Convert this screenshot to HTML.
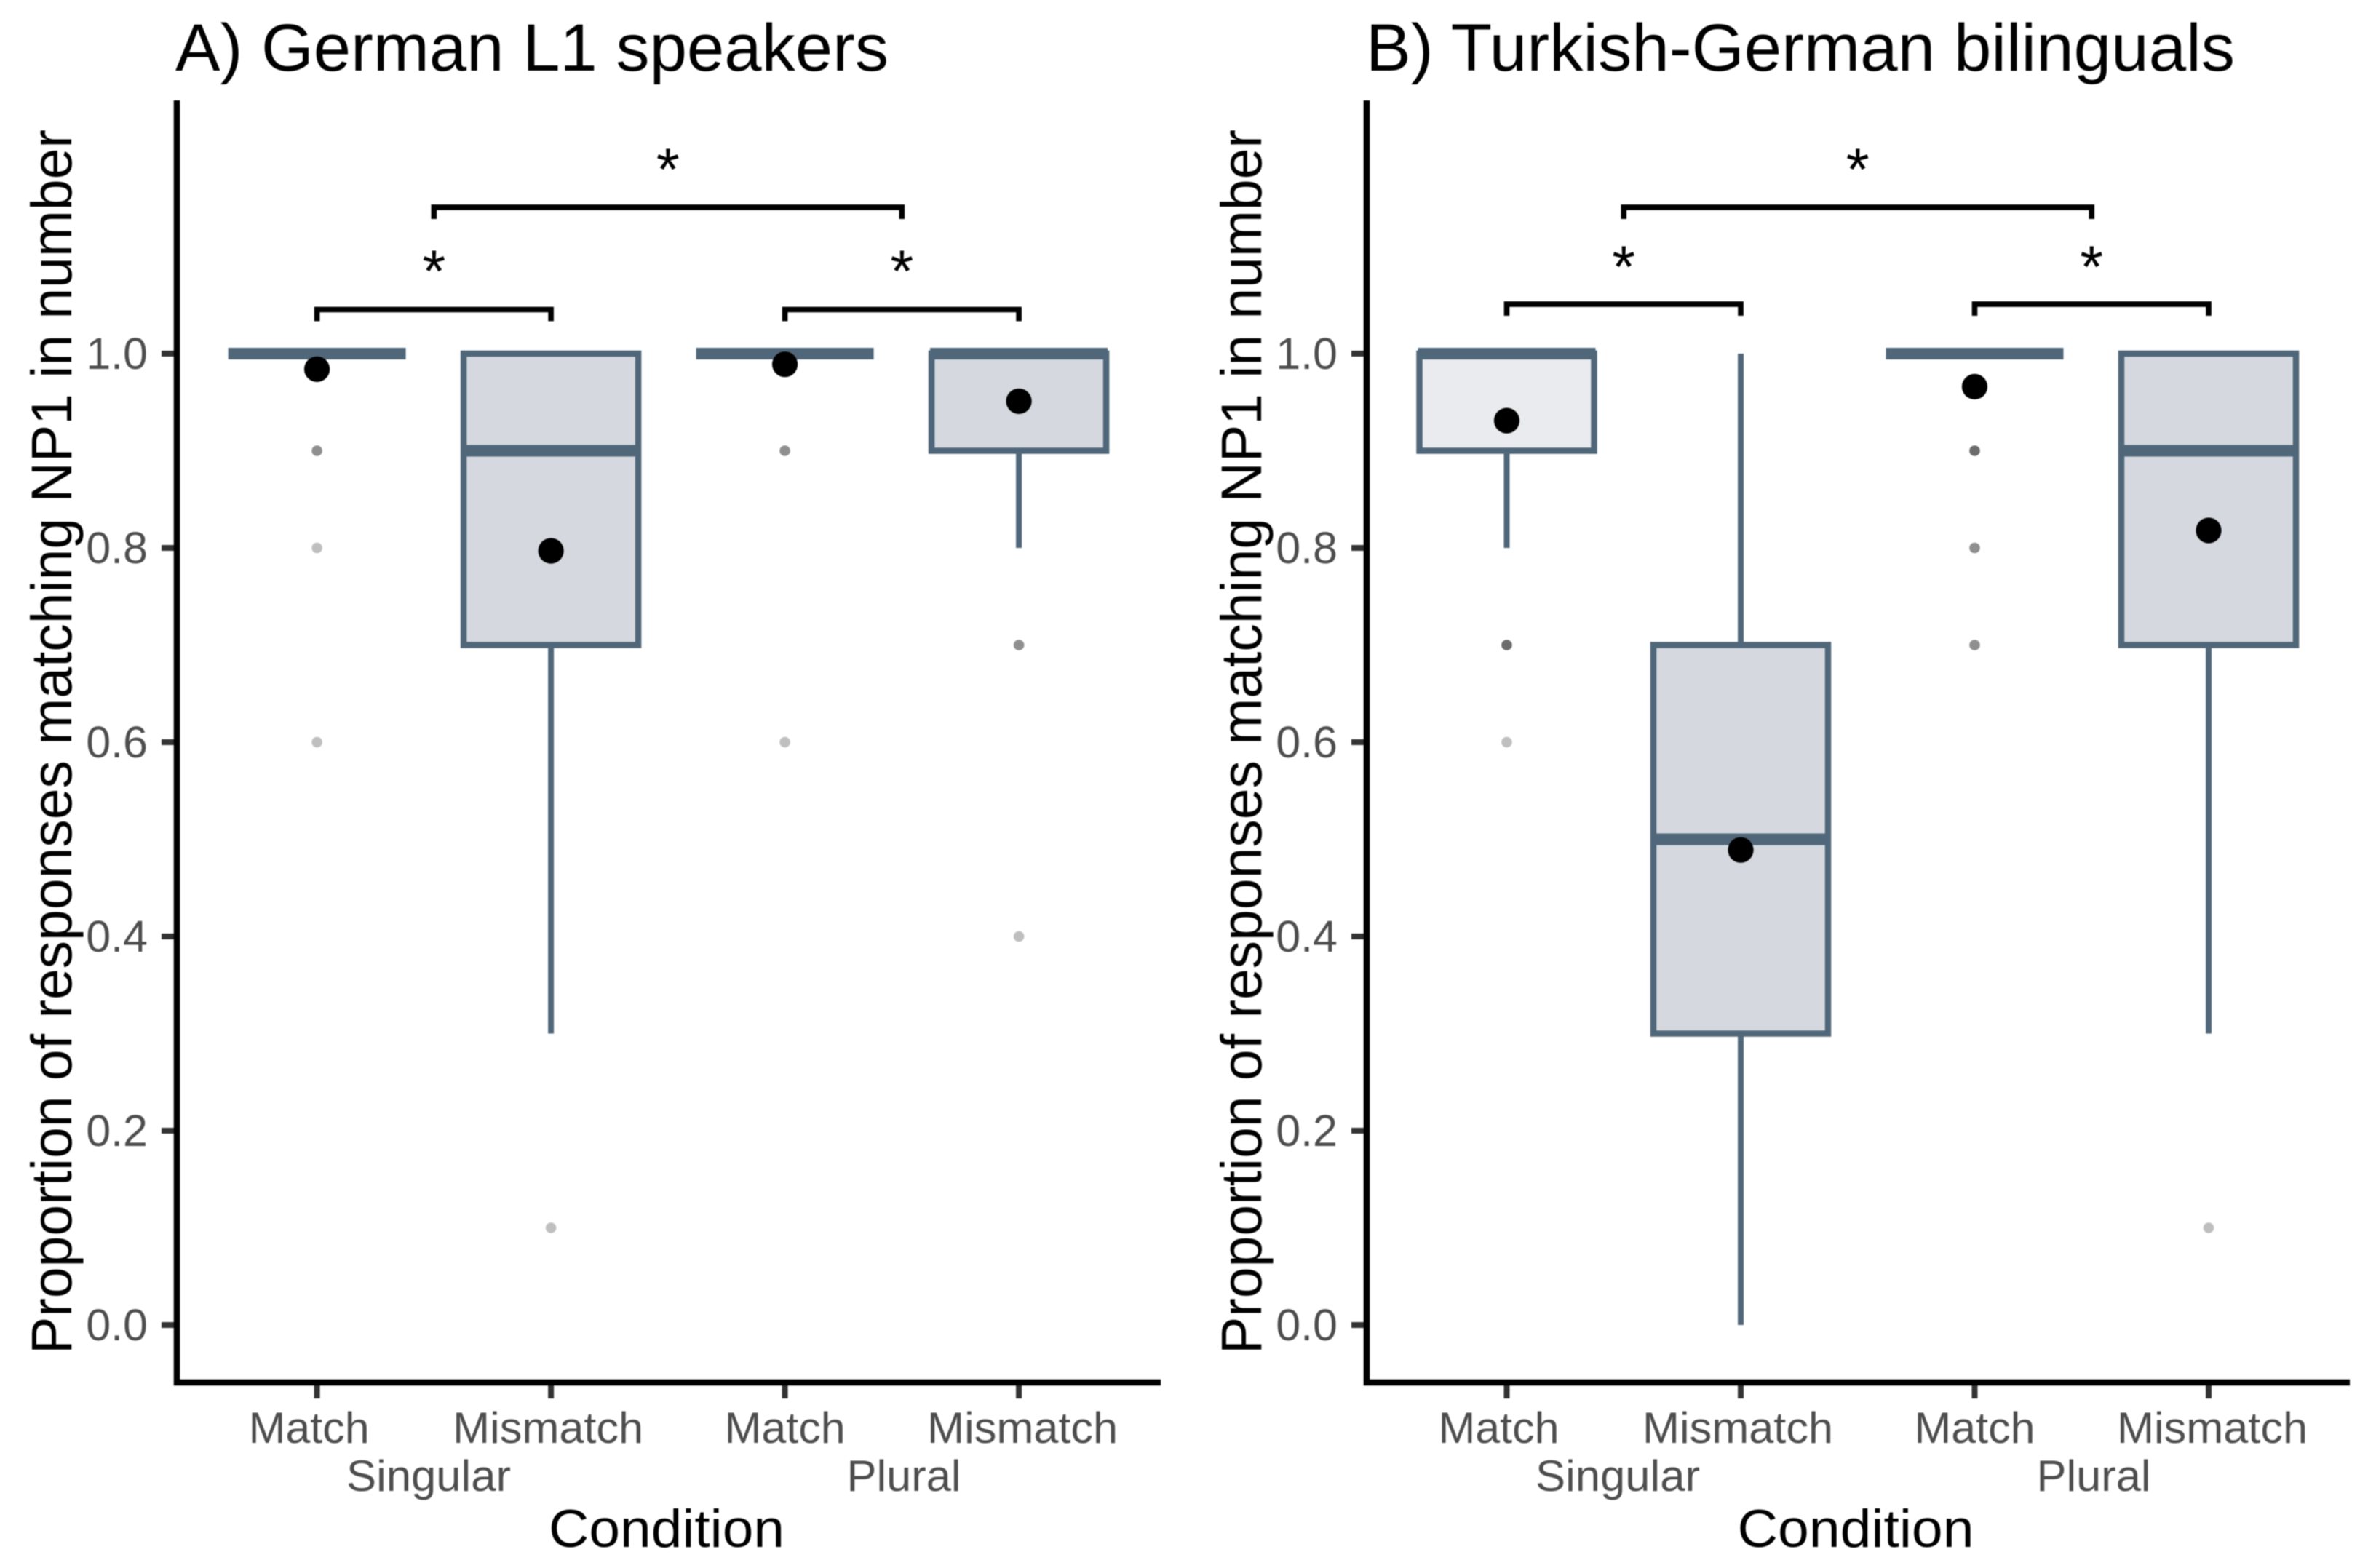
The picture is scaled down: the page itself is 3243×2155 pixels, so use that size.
<!DOCTYPE html>
<html>
<head>
<meta charset="utf-8">
<title>Proportion of responses matching NP1 in number</title>
<style>
html,body{margin:0;padding:0;background:#fff;}
svg{display:block;filter:blur(0.7px);}
text{font-family:"Liberation Sans",Arial,sans-serif;}
</style>
</head>
<body>
<svg id="chart" xmlns="http://www.w3.org/2000/svg" width="3243" height="2155" viewBox="0 0 3243 2155">
<rect width="3243" height="2155" fill="#fff"/>
<text x="241" y="97" font-size="92" fill="#000" textLength="980" lengthAdjust="spacingAndGlyphs">A) German L1 speakers</text>
<text x="1877" y="97" font-size="92" fill="#000" textLength="1194" lengthAdjust="spacingAndGlyphs">B) Turkish-German bilinguals</text>
<text transform="translate(98,1861) rotate(-90)" font-size="79" fill="#000" textLength="1683" lengthAdjust="spacingAndGlyphs">Proportion of responses matching NP1 in number</text>
<text transform="translate(1733,1861) rotate(-90)" font-size="79" fill="#000" textLength="1683" lengthAdjust="spacingAndGlyphs">Proportion of responses matching NP1 in number</text>
<text x="916" y="2126" font-size="73" fill="#000" text-anchor="middle" textLength="324" lengthAdjust="spacingAndGlyphs">Condition</text>
<text x="2550" y="2126" font-size="73" fill="#000" text-anchor="middle" textLength="325" lengthAdjust="spacingAndGlyphs">Condition</text>
<text x="589" y="2049" font-size="60" fill="#4d4d4d" text-anchor="middle" textLength="226" lengthAdjust="spacingAndGlyphs">Singular</text>
<text x="1242" y="2049" font-size="60" fill="#4d4d4d" text-anchor="middle" textLength="157" lengthAdjust="spacingAndGlyphs">Plural</text>
<text x="2223" y="2049" font-size="60" fill="#4d4d4d" text-anchor="middle" textLength="226" lengthAdjust="spacingAndGlyphs">Singular</text>
<text x="2877" y="2049" font-size="60" fill="#4d4d4d" text-anchor="middle" textLength="157" lengthAdjust="spacingAndGlyphs">Plural</text>
<g id="plot"></g>
</svg>
<script>
// ---- Shared categories and tick labels ----
const categories = ["Match", "Mismatch", "Match", "Mismatch"];
const yTickValues = [0, 0.2, 0.4, 0.6, 0.8, 1.0];
const yTickLabels = ["0.0", "0.2", "0.4", "0.6", "0.8", "1.0"];

// ---- Panel A: German L1 speakers ----
const germanQ1 = [1, 0.7, 1, 0.9];
const germanMedian = [1, 0.9, 1, 1];
const germanQ3 = [1, 1, 1, 1];
const germanWhiskerLow = [1, 0.3, 1, 0.8];
const germanWhiskerHigh = [1, 1, 1, 1];
const germanMean = [0.984, 0.797, 0.989, 0.951];
const germanOutlierValues = [[0.9, 0.8, 0.6], [0.1], [0.9, 0.6], [0.7, 0.4]];
const germanOutlierCounts = [[2, 1, 1], [1], [2, 1], [2, 1]];
const germanBracketFrom = [0, 2, 0.5];
const germanBracketTo = [1, 3, 2.5];
const germanBracketLevel = [1.0454, 1.0454, 1.1506];
const germanStarLevel = [1.0929, 1.0929, 1.1978];

// ---- Panel B: Turkish-German bilinguals ----
const turkishQ1 = [0.9, 0.3, 1, 0.7];
const turkishMedian = [1, 0.5, 1, 0.9];
const turkishQ3 = [1, 0.7, 1, 1];
const turkishWhiskerLow = [0.8, 0, 1, 0.3];
const turkishWhiskerHigh = [1, 1, 1, 1];
const turkishMean = [0.931, 0.489, 0.966, 0.818];
const turkishOutlierValues = [[0.7, 0.6], [], [0.9, 0.8, 0.7], [0.1]];
const turkishOutlierCounts = [[3, 1], [], [3, 2, 2], [1]];
const turkishBracketFrom = [0, 2, 0.5];
const turkishBracketTo = [1, 3, 2.5];
const turkishBracketLevel = [1.051, 1.051, 1.1506];
const turkishStarLevel = [1.0974, 1.0974, 1.1978];

// ---- Layout (not data) ----
const yZero = 1821, yUnit = 1335, xAxisY = 1900, yAxisTop = 138;
const slate = "#50677a";
const labelNudge = [-11, -4, 0, 5];
const labelWidths = [166, 262, 166, 262];
const svgNS = "http://www.w3.org/2000/svg";
const plot = document.getElementById("plot");

function yScale(v) { return yZero - yUnit * v; }

function makeXScale(first, step) {
  return function (i) { return first + step * i; };
}

function mk(tag, attrs, parent) {
  const el = document.createElementNS(svgNS, tag);
  for (const k in attrs) el.setAttribute(k, attrs[k]);
  parent.appendChild(el);
  return el;
}

function drawPanel(p) {
  const x = makeXScale(p.firstX, p.stepX);
  const g = mk("g", {}, plot);
  
  

  // outliers go beneath the boxes; overlapping points darken with count
  p.outlierValues.forEach(function (vals, i) {
    vals.forEach(function (v, j) {
      const dot = mk("circle", { cx: x(i), cy: yScale(v), r: 7.3, fill: "#000", "fill-opacity": 1 - Math.pow(0.75, p.outlierCounts[i][j]) }, g);
      
      
    });
  });

  categories.forEach(function (cat, i) {
    const halfW = 120;
    const whiskerUp = mk("line", { x1: x(i), x2: x(i), y1: yScale(p.q3[i]), y2: yScale(p.high[i]), stroke: slate, "stroke-width": 8 }, g);
    
    
    const whiskerDown = mk("line", { x1: x(i), x2: x(i), y1: yScale(p.q1[i]), y2: yScale(p.low[i]), stroke: slate, "stroke-width": 8 }, g);
    
    
    const left = x(i) - halfW, right = x(i) + halfW;
    const box = mk("path", { d: "M" + left + " " + yScale(p.q3[i]) + "H" + right + "V" + yScale(p.q1[i]) + "H" + left + "Z", fill: p.fills[i], stroke: slate, "stroke-width": 8.5 }, g);
    
    
    const median = mk("line", { x1: left - 2, x2: right + 2, y1: yScale(p.median[i]), y2: yScale(p.median[i]), stroke: slate, "stroke-width": 16 }, g);
    
    
    const mean = mk("circle", { cx: x(i), cy: yScale(p.mean[i]), r: 17.6, fill: "#000" }, g);
    
    

    const tick = mk("line", { x1: x(i), x2: x(i), y1: xAxisY, y2: xAxisY + 22, stroke: "#333", "stroke-width": 8 }, g);
    
    
    const label = mk("text", { x: x(i) + labelNudge[i], y: 1983, "font-size": 60, fill: "#4d4d4d", "text-anchor": "middle", textLength: labelWidths[i], lengthAdjust: "spacingAndGlyphs" }, g);
    
    
    label.textContent = cat;
  });

  // y axis ticks
  yTickValues.forEach(function (v, i) {
    const tick = mk("line", { x1: p.axisX - 21, x2: p.axisX, y1: yScale(v), y2: yScale(v), stroke: "#333", "stroke-width": 8 }, g);
    
    
    const label = mk("text", { x: p.axisX - 40, y: yScale(v) + 21, "font-size": 61, fill: "#4d4d4d", "text-anchor": "end" }, g);
    
    
    label.textContent = yTickLabels[i];
  });

  // axis lines
  const axisPath = mk("path", { d: "M" + p.axisX + " " + yAxisTop + "V" + xAxisY + "H" + p.axisEnd, fill: "none", stroke: "#000", "stroke-width": 8.5 }, g);
  
  

  // significance brackets
  p.bracketFrom.forEach(function (from, i) {
    const x1 = x(from), x2 = x(p.bracketTo[i]);
    const top = yScale(p.bracketLevel[i]);
    const bracket = mk("path", { d: "M" + x1 + " " + (top + 16) + "V" + top + "H" + x2 + "V" + (top + 16), fill: "none", stroke: "#000", "stroke-width": 7.6 }, g);
    
    
    const star = mk("text", { x: (x1 + x2) / 2, y: yScale(p.starLevel[i]) + 39, "font-size": 82, fill: "#000", "text-anchor": "middle" }, g);
    
    
    star.textContent = "*";
  });
}

drawPanel({
  firstX: 435.6, stepX: 321.5, axisX: 243, axisEnd: 1595,
  q1: germanQ1, median: germanMedian, q3: germanQ3, low: germanWhiskerLow, high: germanWhiskerHigh, mean: germanMean,
  outlierValues: germanOutlierValues, outlierCounts: germanOutlierCounts,
  bracketFrom: germanBracketFrom, bracketTo: germanBracketTo, bracketLevel: germanBracketLevel, starLevel: germanStarLevel,
  fills: ["#d5d9df", "#d5d9df", "#d5d9df", "#d5d9df"]
});
drawPanel({
  firstX: 2070.5, stepX: 321.5, axisX: 1878, axisEnd: 3229,
  q1: turkishQ1, median: turkishMedian, q3: turkishQ3, low: turkishWhiskerLow, high: turkishWhiskerHigh, mean: turkishMean,
  outlierValues: turkishOutlierValues, outlierCounts: turkishOutlierCounts,
  bracketFrom: turkishBracketFrom, bracketTo: turkishBracketTo, bracketLevel: turkishBracketLevel, starLevel: turkishStarLevel,
  fills: ["#e9ebee", "#d5d9df", "#d5d9df", "#d5d9df"]
});
</script>
</body>
</html>
